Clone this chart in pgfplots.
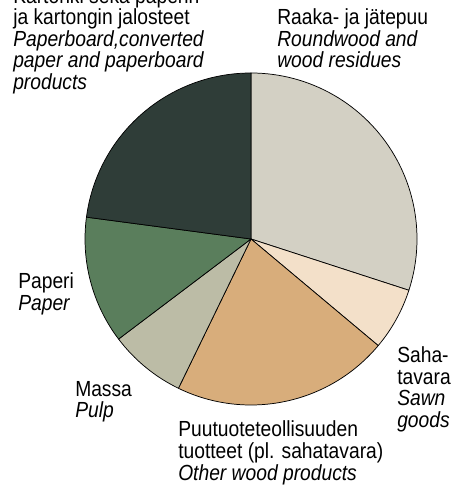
\documentclass[border=0pt]{standalone}
\usepackage{pgfplots}
\usepackage{pgfplotstable}
\pgfplotsset{compat=1.18}
\usepackage{fontspec}
\setmainfont{Liberation Sans}[FakeStretch=0.88]
\definecolor{cRaaka}{HTML}{D3D0C4}
\definecolor{cSaha}{HTML}{F3E0C9}
\definecolor{cPuu}{HTML}{D8AD7B}
\definecolor{cMassa}{HTML}{BCBCA6}
\definecolor{cPaperi}{HTML}{5A7E5C}
\definecolor{cKartonki}{HTML}{2F3D38}

\pgfplotstableread{
label value color
Raaka 30.0 cRaaka
Saha 6.1 cSaha
Puu 21.1 cPuu
Massa 7.5 cMassa
Paperi 12.4 cPaperi
Kartonki 22.9 cKartonki
}\piedata

\newcommand\lab[3]{\node[anchor=base west,inner sep=0pt,font=\fontsize{16.4pt}{16pt}\selectfont] at (axis cs:#1,{491-#2}) {#3};}

\begin{document}
\begin{tikzpicture}
\begin{axis}[
  x=0.75pt, y=0.75pt,
  xmin=0, xmax=453, ymin=0, ymax=491,
  hide axis, clip=false,
]
\coordinate (ll) at (axis cs:0,0);
\coordinate (ur) at (axis cs:453,491);
\pgfplotstablegetrowsof{\piedata}
\pgfmathtruncatemacro\N{\pgfplotsretval-1}
\def\cum{90}
\pgfplotsforeachungrouped \i in {0,...,\N}{%
  \pgfplotstablegetelem{\i}{value}\of\piedata \let\v\pgfplotsretval
  \pgfplotstablegetelem{\i}{color}\of\piedata \let\c\pgfplotsretval
  \pgfmathsetmacro\endang{\cum-3.6*\v}%
  \pgfmathsetmacro\sx{251+166*cos(\cum)}%
  \pgfmathsetmacro\sy{252+166*sin(\cum)}%
  \edef\temp{\noexpand\filldraw[fill=\c, draw=black, line width=0.55pt, line join=round] (axis cs:251,252) -- (axis cs:\sx,\sy) arc[start angle=\cum, end angle=\endang, radius=124.5pt] -- cycle;}%
  \temp
  \global\let\cum\endang
}
\lab{13}{3.5}{Kartonki sekä paperin}
\lab{13}{25}{ja kartongin jalosteet}
\lab{13}{46.5}{\textit{Paperboard,converted}}
\lab{13}{68}{\textit{paper and paperboard}}
\lab{13}{89.5}{\textit{products}}
\lab{277}{25}{Raaka- ja jätepuu}
\lab{277}{46.5}{\textit{Roundwood and}}
\lab{277}{68}{\textit{wood residues}}
\lab{397}{363}{Saha-}
\lab{397}{384.5}{tavara}
\lab{397}{406}{\textit{Sawn}}
\lab{397}{427.5}{\textit{goods}}
\lab{18}{289}{Paperi}
\lab{18}{310.5}{\textit{Paper}}
\lab{75}{396.5}{Massa}
\lab{75}{418}{\textit{Pulp}}
\lab{178}{437}{Puutuoteteollisuuden}
\lab{178}{458.5}{tuotteet (pl. sahatavara)}
\lab{178}{480}{\textit{Other wood products}}
\end{axis}
\pgfresetboundingbox
\path[use as bounding box] (ll) rectangle (ur);
\end{tikzpicture}
\end{document}
